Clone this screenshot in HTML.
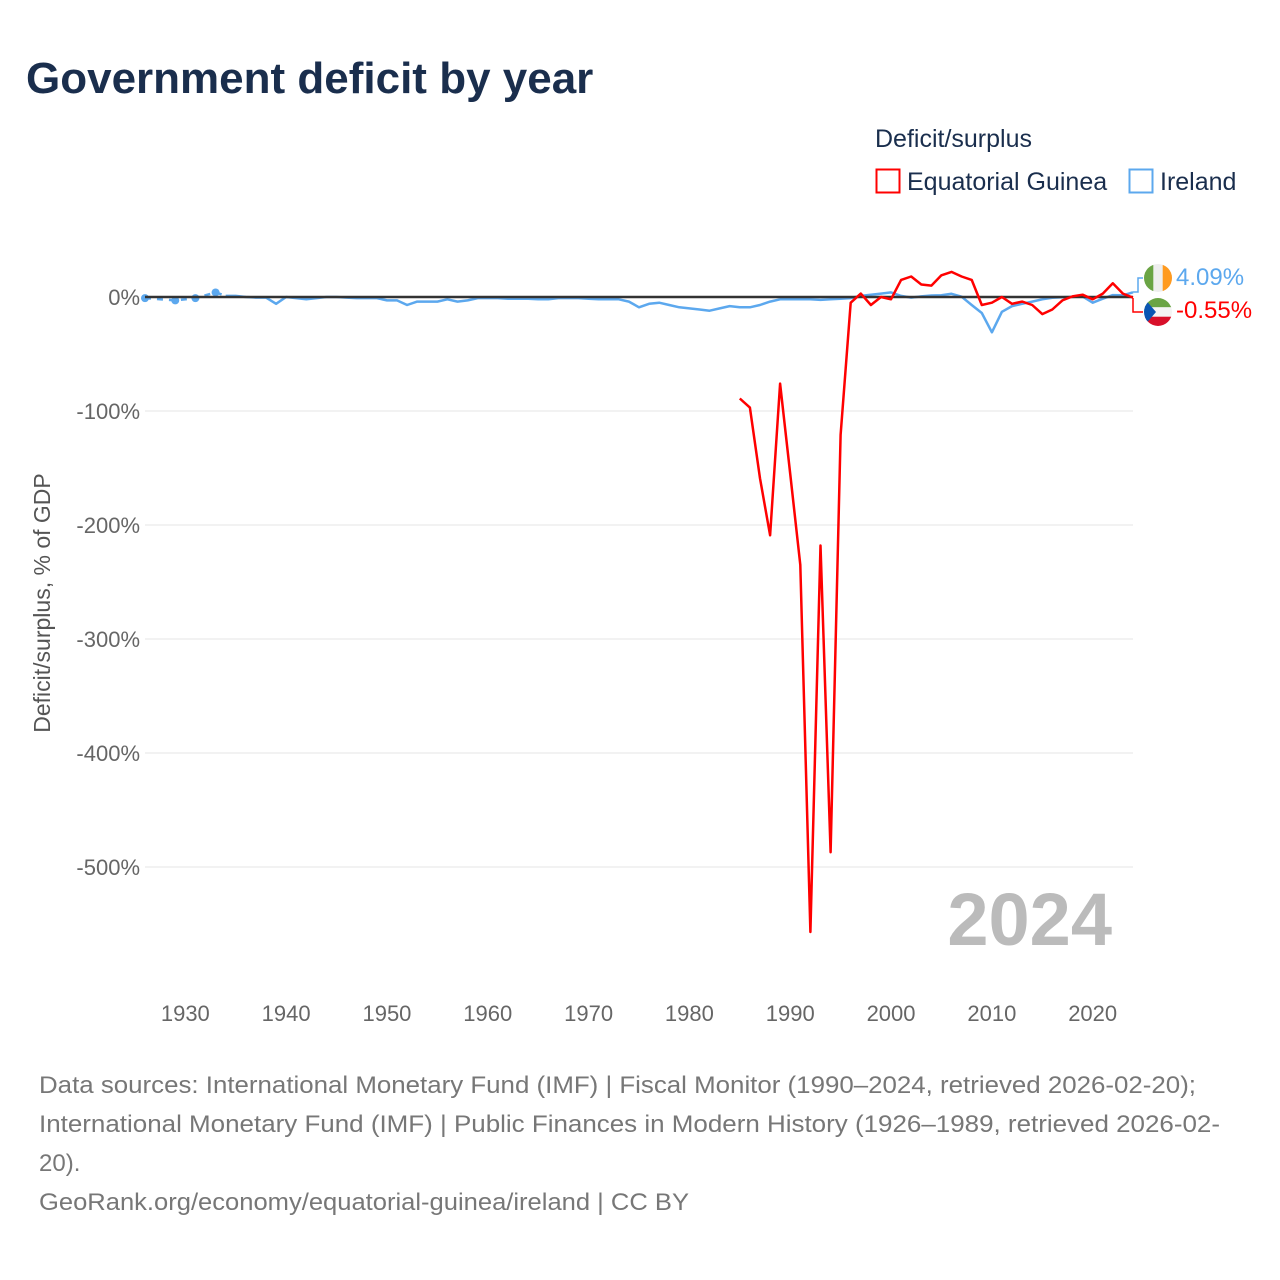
<!DOCTYPE html>
<html><head><meta charset="utf-8">
<style>
body{margin:0;background:#fff;font-family:"Liberation Sans",sans-serif;}
#wrap{position:relative;width:1280px;height:1280px;overflow:hidden;}
</style></head><body>
<div id="wrap">
<svg id="chart" width="1280" height="1280" xmlns="http://www.w3.org/2000/svg">
<text x="26" y="93" font-size="44" font-weight="bold" fill="#1a2e4d">Government deficit by year</text>
<text x="875" y="147" font-size="25" fill="#1a2e4d">Deficit/surplus</text>
<g>
<rect x="876.5" y="169.5" width="23" height="23" fill="none" stroke="#ff0000" stroke-width="2"/>
<text x="907" y="190" font-size="25" fill="#1a2e4d">Equatorial Guinea</text></g>
<g>
<rect x="1129.5" y="169.5" width="23" height="23" fill="none" stroke="#5ca8ee" stroke-width="2"/>
<text x="1160" y="190" font-size="25" fill="#1a2e4d">Ireland</text></g>
<text transform="translate(50,603) rotate(-90)" text-anchor="middle" font-size="23" fill="#555">Deficit/surplus, % of GDP</text>
<g id="grid"></g>
<g id="yticks"></g>
<g id="xticks"></g>
<text x="1112" y="945" text-anchor="end" font-size="74" font-weight="bold" fill="#bbb">2024</text>
<g id="series"></g>
<g>
<path d="M1133 292 L1138 292 L1138 278 L1143 278" fill="none" stroke="#5ca8ee" stroke-width="1.5"/>
<circle cx="1158" cy="278" r="14" fill="#eee"/>
<rect x="1144" y="264" width="9.3" height="28" fill="#6aa444" clip-path="circle(14px at 14px 14px)"/>
<rect x="1162.7" y="264" width="9.3" height="28" fill="#ff9a1f" clip-path="circle(14px at -4.7px 14px)"/>
<text x="1176" y="285" font-size="24" fill="#5ca8ee">4.09%</text></g>
<g>
<path d="M1133 298 L1133 312 L1143 312" fill="none" stroke="#ff0000" stroke-width="1.5"/>
<clipPath id="cg"><circle cx="1158" cy="312" r="14"/></clipPath>
<g clip-path="url(#cg)"><rect x="1144" y="298" width="28" height="9.3" fill="#6aa444"/><rect x="1144" y="307.3" width="28" height="9.4" fill="#f4f4f4"/><rect x="1144" y="316.7" width="28" height="9.3" fill="#d8102a"/><path d="M1144 298 L1156 312 L1144 326 Z" fill="#0b56b3"/></g>
<text x="1176" y="318" font-size="24" fill="#ff0000">-0.55%</text></g>
<g font-size="24" fill="#777">
<text x="39" y="1093" textLength="1157" lengthAdjust="spacingAndGlyphs">Data sources: International Monetary Fund (IMF) | Fiscal Monitor (1990–2024, retrieved 2026-02-20);</text>
<text x="39" y="1132" textLength="1181" lengthAdjust="spacingAndGlyphs">International Monetary Fund (IMF) | Public Finances in Modern History (1926–1989, retrieved 2026-02-</text>
<text x="39" y="1171">20).</text>
<text x="39" y="1210" textLength="650" lengthAdjust="spacingAndGlyphs">GeoRank.org/economy/equatorial-guinea/ireland | CC BY</text></g>
</svg></div>
<script>
const yTicks=[0,-100,-200,-300,-400,-500];
const xTicks=[1930,1940,1950,1960,1970,1980,1990,2000,2010,2020];
const irlYears=[1926,1929,1931,1933,1934,1935,1936,1937,1938,1939,1940,1941,1942,1943,1944,1945,1946,1947,1948,1949,1950,1951,1952,1953,1954,1955,1956,1957,1958,1959,1960,1961,1962,1963,1964,1965,1966,1967,1968,1969,1970,1971,1972,1973,1974,1975,1976,1977,1978,1979,1980,1981,1982,1983,1984,1985,1986,1987,1988,1989,1990,1991,1992,1993,1994,1995,1996,1997,1998,1999,2000,2001,2002,2003,2004,2005,2006,2007,2008,2009,2010,2011,2012,2013,2014,2015,2016,2017,2018,2019,2020,2021,2022,2023,2024];
const irlValues=[-1,-3,-1,4,1,1,0,-0.5,-0.5,-6,0,-1,-2,-1,0,0,-0.5,-1,-1,-1,-3,-3,-7,-4,-4,-4,-2,-4,-3,-1,-1,-1,-1.5,-1.5,-1.5,-2,-2,-1,-1,-1,-1.5,-2,-2,-2,-4,-9,-6,-5,-7,-9,-10,-11,-12,-10,-8,-9,-9,-7,-4,-2,-2,-2,-2,-2.5,-2,-1.5,-1,1,2,3,4,1,-0.5,0.5,1.3,1.6,2.8,0.3,-7,-14,-31,-13,-8,-6,-4,-2,-0.7,-0.3,0.1,0.5,-5,-1.5,1.7,1.5,4.09];
const gnqYears=[1985,1986,1987,1988,1989,1990,1991,1992,1993,1994,1995,1996,1997,1998,1999,2000,2001,2002,2003,2004,2005,2006,2007,2008,2009,2010,2011,2012,2013,2014,2015,2016,2017,2018,2019,2020,2021,2022,2023,2024];
const gnqValues=[-89,-97,-159,-209,-76,-155,-235,-557,-218,-487,-121,-5,3,-7,0,-2,15,18,11,10,19,22,18,15,-7,-5,0,-6,-4,-7,-15,-11,-3,0.5,2,-2,3,12,3,-0.55];
const NS='http://www.w3.org/2000/svg';
const X0=145,X1=1133,Y0=297,K=1.14;
const xs=y=>X0+(y-1926)*(X1-X0)/(2024-1926);
const ys=v=>Y0-v*K;
function mk(t,a,p){const e=document.createElementNS(NS,t);for(const k in a)e.setAttribute(k,a[k]);p.appendChild(e);return e;}
const grid=document.getElementById('grid'),yt=document.getElementById('yticks'),xt=document.getElementById('xticks'),ser=document.getElementById('series');
yTicks.forEach(v=>{
 if(v!==0){const l=mk('line',{x1:X0,x2:X1,y1:ys(v),y2:ys(v),stroke:'#e6e6e6','stroke-width':1},grid);
 
 }
 const t=mk('text',{x:140,y:ys(v)+8,'text-anchor':'end','font-size':22,fill:'#666'},yt);
 
 
 t.textContent=v+'%';
});
xTicks.forEach(v=>{
 const t=mk('text',{x:xs(v),y:1021,'text-anchor':'middle','font-size':22,fill:'#666'},xt);
 
 
 t.textContent=v;
});
function pts(ys_,vs,from,to){let s='';for(let i=from;i<to;i++)s+=xs(ys_[i]).toFixed(1)+','+ys(vs[i]).toFixed(1)+' ';return s;}
const dash=mk('polyline',{points:pts(irlYears,irlValues,0,5),fill:'none',stroke:'#5ca8ee','stroke-width':2.5,'stroke-dasharray':'6,6'},ser);


for(let i=0;i<4;i++){const c=mk('circle',{cx:xs(irlYears[i]),cy:ys(irlValues[i]),r:4,fill:'#5ca8ee'},ser);
 
 }
const irl=mk('polyline',{points:pts(irlYears,irlValues,4,irlYears.length),fill:'none',stroke:'#5ca8ee','stroke-width':2.5,'stroke-linejoin':'round'},ser);


const zero=mk('line',{x1:X0,x2:X1,y1:Y0,y2:Y0,stroke:'#333','stroke-width':2.5},ser);


const gnq=mk('polyline',{points:pts(gnqYears,gnqValues,0,gnqYears.length),fill:'none',stroke:'#ff0000','stroke-width':2.5,'stroke-linejoin':'round'},ser);


</script>
</body></html>
